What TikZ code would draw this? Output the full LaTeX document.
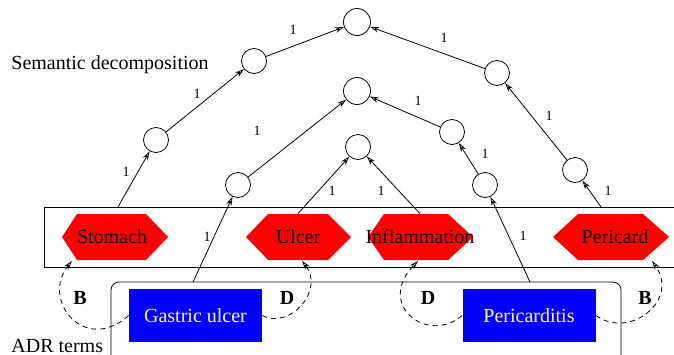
\documentclass[tikz,border=0pt]{standalone}
\usepackage{fontspec}
\setmainfont{Liberation Serif}
\usetikzlibrary{arrows.meta}

\tikzset{
  dot/.style={circle, draw, minimum size=12.5pt, inner sep=0pt},
  term/.style={minimum height=23pt, inner sep=0pt},
  adr/.style={fill=blue, text=white, minimum width=66.5pt, minimum height=26.5pt, inner sep=0pt},
  hexa/.style={fill=red},
  wt/.style={font=\fontsize{7}{8}\selectfont, inner sep=0pt},
  rel/.style={font=\bfseries, inner sep=0pt},
  arr/.style={-{Stealth[open,length=4.5pt,width=2.8pt]}},
  dep/.style={arr, dash pattern=on 2.5pt off 2pt},
}

\begin{document}
\begin{tikzpicture}[x=0.5pt,y=-0.5pt]
  \clip (0,0) rectangle (674,354);

% Semantic decomposition (band of terms)
  \node[draw, minimum width=318pt, minimum height=30pt, inner sep=0pt] (band) at (362,237) {};
  \fill[hexa] (62,237) -- (77,214) -- (146,214) -- (168,237) -- (146,260) -- (77,260) -- cycle;
  \fill[hexa] (246,237) -- (268,214) -- (328,214) -- (351,237) -- (328,260) -- (268,260) -- cycle;
  \fill[hexa] (368,237) -- (384,214) -- (448,214) -- (473,237) -- (448,260) -- (384,260) -- cycle;
  \fill[hexa] (553,237) -- (578,214) -- (643,214) -- (669,237) -- (643,260) -- (578,260) -- cycle;
  \node[term] (stomach) at (112,237) {Stomach};
  \node[term] (ulcer) at (298,237) {Ulcer};
  \node[term] (inflam) at (420,237) {Inflammation};
  \node[term] (pericard) at (615,237) {Pericard};
  \node[anchor=base west, inner sep=0pt] (sem) at (11,69) {Semantic decomposition};

% ADR terms
  \node[draw, rounded corners=4pt, minimum width=255pt, minimum height=54pt, inner sep=0pt] (terms) at (366,336) {};
  \node[adr] (gastric) at (195.5,315.5) {Gastric ulcer};
  \node[adr] (pericarditis) at (529,315.5) {Pericarditis};
  \node[anchor=base west, inner sep=0pt] (adrlbl) at (11,352) {ADR terms};

% circles
  \node[dot, minimum size=13.5pt] (t) at (357,22) {};
  \node[dot] (s1) at (156,140) {};
  \node[dot] (s2) at (254,61) {};
  \node[dot] (p1) at (575,170) {};
  \node[dot] (p2) at (497,73) {};
  \node[dot, minimum size=13.5pt] (m) at (357,91) {};
  \node[dot] (g1) at (238,185) {};
  \node[dot] (c1) at (485,185) {};
  \node[dot] (c2) at (452,132) {};
  \node[dot] (u) at (358,147) {};

  \coordinate (sfoot) at (118,207);
  \coordinate (pfoot) at (601,207);
  \coordinate (gfoot) at (193,282);
  \coordinate (cfoot) at (530,282);

% weighted edges
  \draw[arr] (sfoot) -- (s1);   \node[wt] (w1) at (126,172) {1};
  \draw[arr] (s1) -- (s2);      \node[wt] (w2) at (197,94) {1};
  \draw[arr] (s2) -- (t);       \node[wt] (w3) at (293,30) {1};
  \draw[arr] (p2) -- (t);       \node[wt] (w4) at (444,38) {1};
  \draw[arr] (p1) -- (p2);      \node[wt] (w5) at (549,116) {1};
  \draw[arr] (pfoot) -- (p1);   \node[wt] (w6) at (608,191) {1};
  \draw[arr] (gfoot) -- (g1);   \node[wt] (w7) at (207,237) {1};
  \draw[arr] (g1) -- (m);       \node[wt] (w8) at (257,131) {1};
  \draw[arr] (c2) -- (m);       \node[wt] (w9) at (418,101) {1};
  \draw[arr] (c1) -- (c2);      \node[wt] (w10) at (485,154) {1};
  \draw[arr] (cfoot) -- (c1);   \node[wt] (w11) at (523,236) {1};
  \draw[arr] (ulcer.north) -- (u);  \node[wt] (w12) at (332,191) {1};
  \draw[arr] (inflam.north) -- (u); \node[wt] (w13) at (381,191) {1};

% B and D links
  \draw[dep] (gastric.west) .. controls (85,355) and (40,300) .. (72,261);
  \draw[dep] (gastric.east) .. controls (290,330) and (325,290) .. (302,261);
  \draw[dep] (pericarditis.west) .. controls (428,345) and (375,305) .. (418,261);
  \draw[dep] (pericarditis.east) .. controls (630,340) and (680,300) .. (652,261);
  \node[rel] (b1) at (80,298) {B};
  \node[rel] (d1) at (287,298) {D};
  \node[rel] (d2) at (428,298) {D};
  \node[rel] (b2) at (645,298) {B};
\end{tikzpicture}
\end{document}
